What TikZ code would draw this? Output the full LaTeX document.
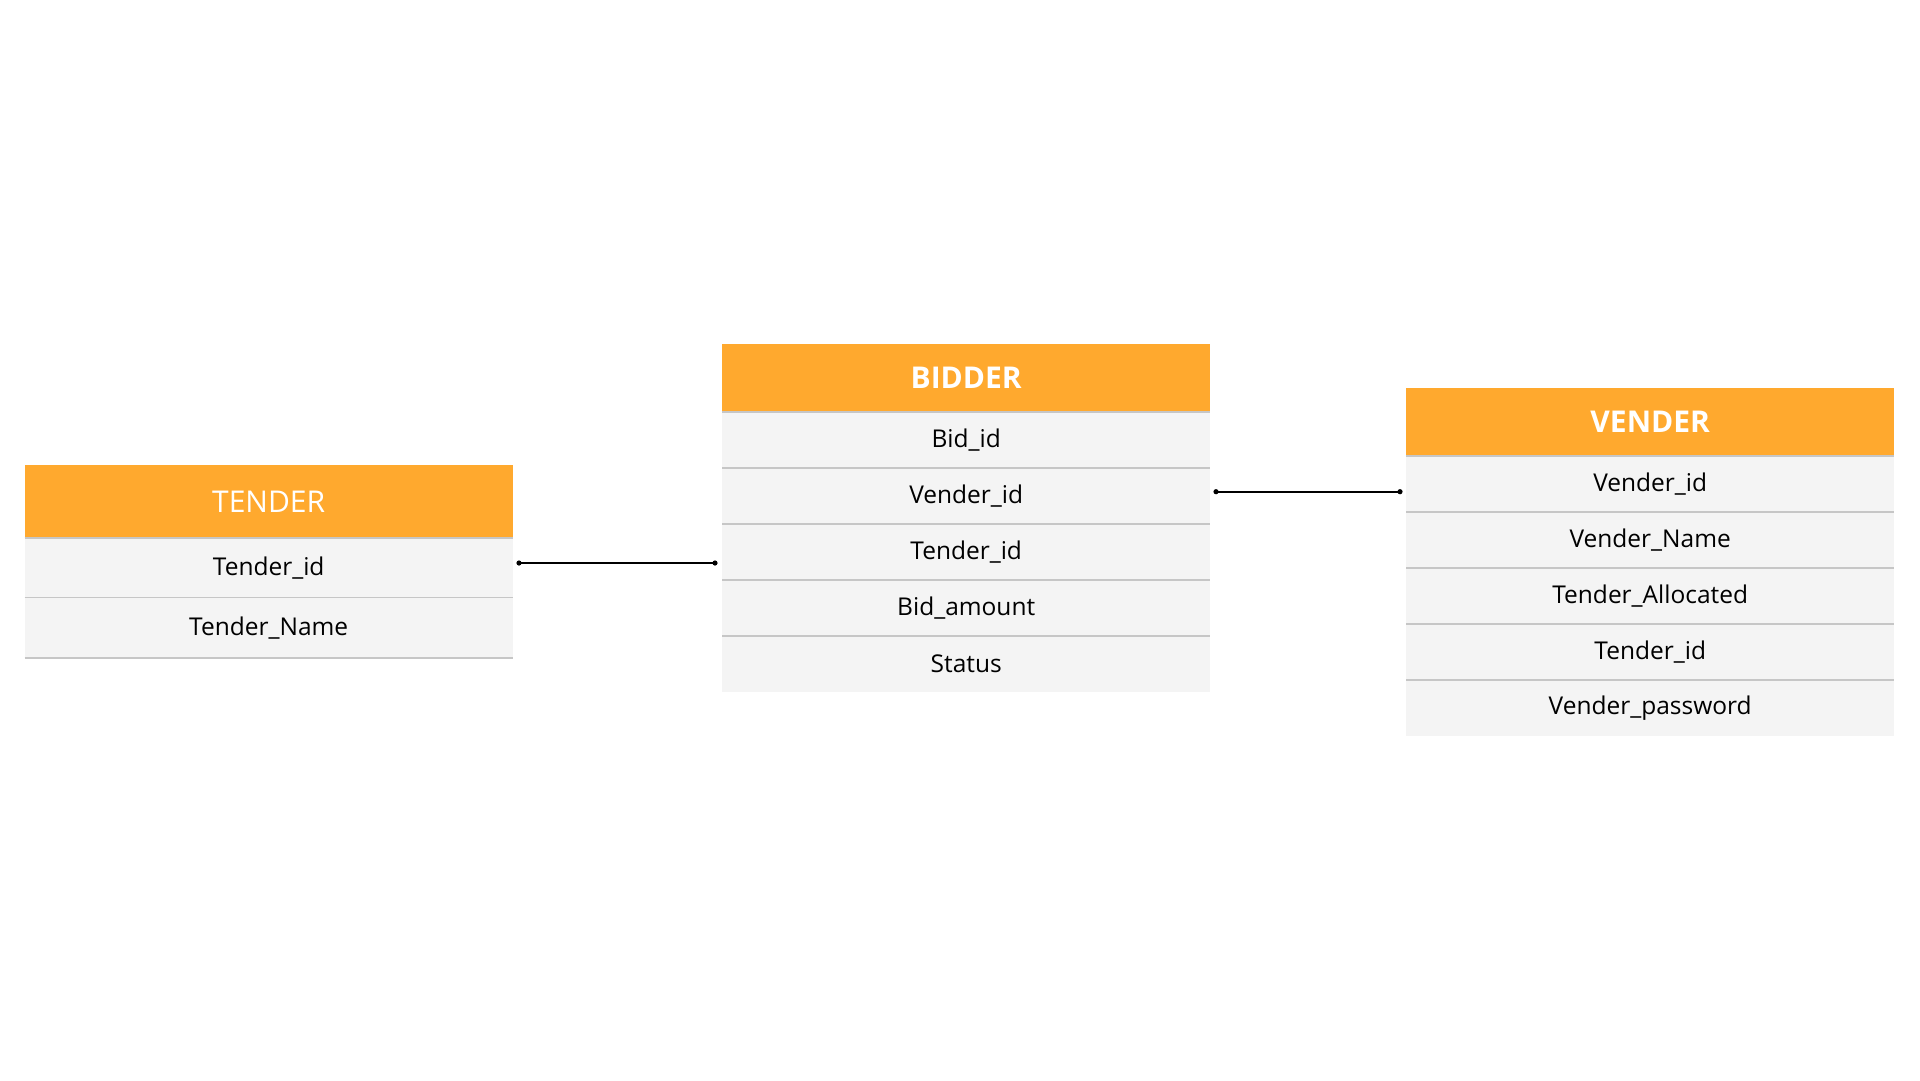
\documentclass[tikz,border=0pt]{standalone}
\usepackage{fontspec}
\setmainfont{Open Sans}
\definecolor{hdrorange}{HTML}{FFA92E}
\definecolor{rowfill}{HTML}{F4F4F4}
\definecolor{sepgray}{HTML}{C6C6C6}
\tikzset{
  hdr/.style={fill=hdrorange, text=white, inner sep=0pt, anchor=north west,
    minimum width=488pt, font=\fontsize{30}{34}\selectfont},
  hdrbold/.style={hdr, font=\fontsize{30}{34}\selectfont\bfseries},
  rowbox/.style={fill=rowfill, text=black, inner sep=0pt, anchor=north west,
    minimum width=488pt, font=\fontsize{24.5}{28}\selectfont,
    append after command={(\tikzlastnode.north west) edge[sepline] (\tikzlastnode.north east)}},
  sepline/.style={draw=sepgray, line width=1.5pt},
  conn/.style={draw=black, line width=2pt},
  enddot/.style={fill=black}
}
\begin{document}
\begin{tikzpicture}[x=1pt,y=-1pt]
\useasboundingbox[fill=white] (0,0) rectangle (1920,1080);
% TENDER
\node[hdr, minimum height=73pt] (th) at (24.5,465) {TENDER};
\node[rowbox, minimum height=59.7pt] (t1) at (24.5,538) {Tender\_id};
\node[rowbox, minimum height=59.7pt] (t2) at (24.5,597.7) {Tender\_Name};
\draw[sepline] (t2.south west) -- (t2.south east);
% BIDDER
\node[hdrbold, minimum height=68.5pt] (bh) at (722,343.5) {BIDDER};
\node[rowbox, minimum height=56pt] (b1) at (722,412) {Bid\_id};
\node[rowbox, minimum height=56pt] (b2) at (722,468) {Vender\_id};
\node[rowbox, minimum height=56pt] (b3) at (722,524) {Tender\_id};
\node[rowbox, minimum height=56pt] (b4) at (722,580) {Bid\_amount};
\node[rowbox, minimum height=56pt] (b5) at (722,636) {Status};
% VENDER
\node[hdrbold, minimum height=68.5pt] (vh) at (1406,387.5) {VENDER};
\node[rowbox, minimum height=56pt] (v1) at (1406,456) {Vender\_id};
\node[rowbox, minimum height=56pt] (v2) at (1406,512) {Vender\_Name};
\node[rowbox, minimum height=56pt] (v3) at (1406,568) {Tender\_Allocated};
\node[rowbox, minimum height=56pt] (v4) at (1406,624) {Tender\_id};
\node[rowbox, minimum height=56pt] (v5) at (1406,680) {Vender\_password};
% connectors
\coordinate (c1a) at (519,563);
\coordinate (c1b) at (715,563);
\coordinate (c2a) at (1216,491.7);
\coordinate (c2b) at (1400,491.7);
\draw[conn] (c1a) -- (c1b);
\draw[conn] (c2a) -- (c2b);
\foreach \p in {c1a,c1b,c2a,c2b} \fill[enddot] (\p) circle (2.6pt);
\end{tikzpicture}
\end{document}
